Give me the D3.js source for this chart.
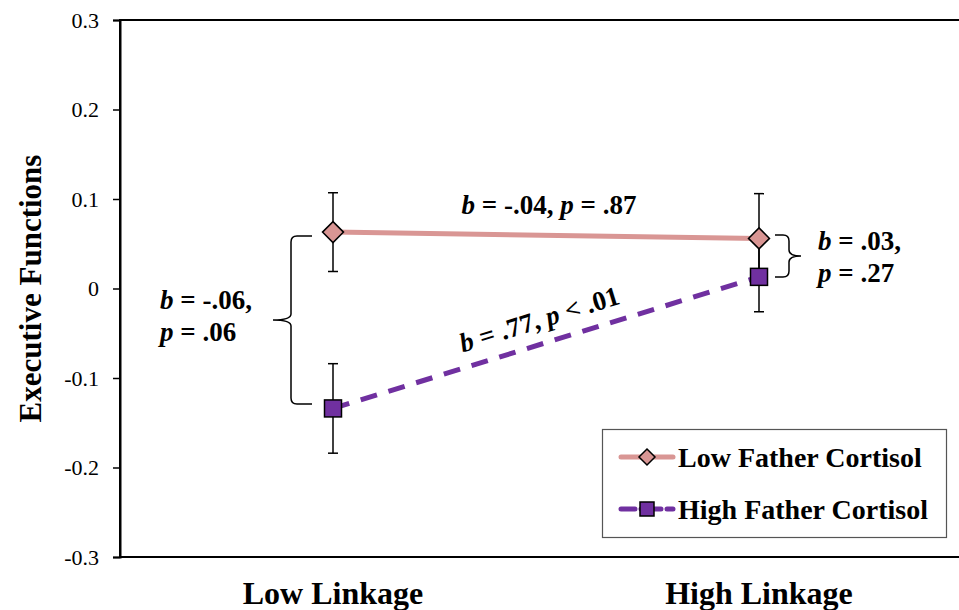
<!DOCTYPE html>
<html>
<head>
<meta charset="utf-8">
<script src="https://cdn.jsdelivr.net/npm/d3@7"></script>
<style>
    body { margin: 0; background: #fff; }
    svg { display: block; font-family: "Liberation Serif", "Times New Roman", serif; }
</style>
</head>
<body>
<script>
// chart data
var categories = ["Low Linkage", "High Linkage"];
var seriesNames = ["Low Father Cortisol", "High Father Cortisol"];
var lowCortisol = [0.063, 0.056];
var lowCortisolErr = [0.044, 0.050];
var highCortisol = [-0.134, 0.013];
var highCortisolErr = [0.050, 0.039];
var yTicks = [-0.3, -0.2, -0.1, 0, 0.1, 0.2, 0.3];

var pink = "#d99694";
var purple = "#7030a0";

var width = 959, height = 610;
var margin = { top: 20, left: 120 };
var plotRight = 972, plotBottom = 557;

var svg = d3.select("body")
    .append("svg")
    .attr("width", width)
    .attr("height", height);

// scales
var xScale = d3.scalePoint()
    .domain(categories)
    .range([margin.left, plotRight])
    .padding(0.5);

var yScale = d3.scaleLinear()
    .domain([-0.3, 0.3])
    .range([plotBottom, margin.top]);

// plot frame (right side runs off the picture)
svg.append("rect")
    .attr("x", margin.left)
    .attr("y", margin.top)
    .attr("width", plotRight - margin.left)
    .attr("height", plotBottom - margin.top)
    .attr("fill", "none")
    .attr("stroke", "#000")
    .attr("stroke-width", 2);

// y axis
var yAxis = d3.axisLeft(yScale)
    .tickValues(yTicks)
    .tickSize(7)
    .tickPadding(14)
    .tickFormat(function (d) {
        return d === 0 ? "0" : d.toFixed(1);
    });

var gy = svg.append("g")
    .attr("transform", "translate(" + margin.left + ",0)")
    .call(yAxis);
gy.attr("font-family", null).attr("font-size", null);
gy.select(".domain").attr("stroke-width", 2);
gy.selectAll(".tick line").attr("stroke-width", 1.5);
gy.selectAll(".tick text")
    .style("font-family", "'Liberation Serif', serif")
    .style("font-size", "22px")
    .attr("fill", "#000");

// y axis title
svg.append("text")
    .attr("transform", "translate(41," + yScale(0) + ") rotate(-90)")
    .attr("text-anchor", "middle")
    .attr("font-weight", "bold")
    .style("font-size", "31px")
    .text("Executive Functions");

// x labels
svg.selectAll(".xlabel")
    .data(categories)
    .enter().append("text")
    .attr("class", "xlabel")
    .attr("x", function (d) { return xScale(d); })
    .attr("y", 604)
    .attr("text-anchor", "middle")
    .attr("font-weight", "bold")
    .style("font-size", "32px")
    .text(function (d) { return d; });

// lines
var line = d3.line()
    .x(function (d, i) { return xScale(categories[i]); })
    .y(function (d) { return yScale(d); });

svg.append("path")
    .datum(lowCortisol)
    .attr("d", line)
    .attr("fill", "none")
    .attr("stroke", pink)
    .attr("stroke-width", 5);

svg.append("path")
    .datum(highCortisol)
    .attr("d", line)
    .attr("fill", "none")
    .attr("stroke", purple)
    .attr("stroke-width", 5)
    .attr("stroke-dasharray", "17,12");

// error bars
function drawErrors(values, errs) {
    var g = svg.append("g");
    values.forEach(function (v, i) {
        var x = xScale(categories[i]);
        var y1 = yScale(v + errs[i]), y2 = yScale(v - errs[i]);
        g.append("line").attr("x1", x).attr("x2", x).attr("y1", y1).attr("y2", y2)
            .attr("stroke", "#000").attr("stroke-width", 1.5);
        [y1, y2].forEach(function (yy) {
            g.append("line").attr("x1", x - 5).attr("x2", x + 5).attr("y1", yy).attr("y2", yy)
                .attr("stroke", "#000").attr("stroke-width", 1.5);
        });
    });
}
drawErrors(lowCortisol, lowCortisolErr);
drawErrors(highCortisol, highCortisolErr);

// markers
function diamondPath(cx, cy, r) {
    return "M" + cx + "," + (cy - r) + "L" + (cx + r) + "," + cy + "L" + cx + "," + (cy + r) + "L" + (cx - r) + "," + cy + "Z";
}

svg.selectAll(".lowMarker")
    .data(lowCortisol)
    .enter().append("path")
    .attr("class", "lowMarker")
    .attr("d", function (d, i) { return diamondPath(xScale(categories[i]), yScale(d), 10.5); })
    .attr("fill", pink)
    .attr("stroke", "#000")
    .attr("stroke-width", 1.5);

svg.selectAll(".highMarker")
    .data(highCortisol)
    .enter().append("rect")
    .attr("class", "highMarker")
    .attr("x", function (d, i) { return xScale(categories[i]) - 8.5; })
    .attr("y", function (d) { return yScale(d) - 8.5; })
    .attr("width", 17)
    .attr("height", 17)
    .attr("fill", purple)
    .attr("stroke", "#000")
    .attr("stroke-width", 1.5);

// annotation helper: bold, italic b and p
function statText(parent, x, y, parts, anchor) {
    var t = parent.append("text")
        .attr("x", x)
        .attr("y", y)
        .attr("font-weight", "bold")
        .style("font-size", "27px")
        .attr("text-anchor", anchor || "start");
    parts.forEach(function (p) {
        t.append("tspan")
            .attr("font-style", p[1] ? "italic" : "normal")
            .text(p[0]);
    });
    return t;
}

statText(svg, 549, 214, [["b", 1], [" = -.04, ", 0], ["p", 1], [" = .87", 0]], "middle");

var slopeX1 = xScale(categories[0]), slopeX2 = xScale(categories[1]);
var angle = Math.atan2(yScale(highCortisol[1]) - yScale(highCortisol[0]), slopeX2 - slopeX1) * 180 / Math.PI;
var g77 = svg.append("g")
    .attr("transform", "translate(542,328) rotate(" + angle + ")");
statText(g77, 0, 0, [["b", 1], [" = .77, ", 0], ["p", 1], [" < .01", 0]], "middle");

statText(svg, 160, 309, [["b", 1], [" = -.06,", 0]]);
statText(svg, 160, 341, [["p", 1], [" = .06", 0]]);
statText(svg, 818, 250, [["b", 1], [" = .03,", 0]]);
statText(svg, 818, 282, [["p", 1], [" = .27", 0]]);

// braces
function brace(xOuter, xInner, yTop, yBot, yTip, xTip) {
    var c = 6;
    var dir = xInner < xOuter ? -1 : 1;
    return "M" + xOuter + "," + yTop +
        "L" + (xInner - dir * c) + "," + yTop +
        "Q" + xInner + "," + yTop + " " + xInner + "," + (yTop + c) +
        "L" + xInner + "," + (yTip - c) +
        "Q" + xInner + "," + yTip + " " + xTip + "," + yTip +
        "Q" + xInner + "," + yTip + " " + xInner + "," + (yTip + c) +
        "L" + xInner + "," + (yBot - c) +
        "Q" + xInner + "," + yBot + " " + (xInner - dir * c) + "," + yBot +
        "L" + xOuter + "," + yBot;
}

svg.append("path")
    .attr("d", brace(312, 291, 236, 404, 320, 273))
    .attr("fill", "none")
    .attr("stroke", "#000")
    .attr("stroke-width", 1.5);

svg.append("path")
    .attr("d", brace(775, 789, 235, 277, 256, 801))
    .attr("fill", "none")
    .attr("stroke", "#000")
    .attr("stroke-width", 1.5);

// legend
var legend = svg.append("g");
legend.append("rect")
    .attr("x", 602.5)
    .attr("y", 429.5)
    .attr("width", 344)
    .attr("height", 108)
    .attr("fill", "#fff")
    .attr("stroke", "#555")
    .attr("stroke-width", 1.2);

var legendRows = legend.selectAll(".row")
    .data(seriesNames)
    .enter().append("g")
    .attr("class", "row")
    .attr("transform", function (d, i) { return "translate(0," + (457 + i * 52) + ")"; });

legendRows.append("line")
    .attr("x1", 621).attr("x2", 673)
    .attr("y1", 0).attr("y2", 0)
    .attr("stroke", function (d, i) { return i === 0 ? pink : purple; })
    .attr("stroke-width", 5)
    .attr("stroke-linecap", "round")
    .attr("stroke-dasharray", function (d, i) { return i === 0 ? null : "14,6,20,6,14"; });

legendRows.each(function (d, i) {
    var row = d3.select(this);
    if (i === 0) {
        row.append("path")
            .attr("d", diamondPath(647, 0, 8))
            .attr("fill", pink)
            .attr("stroke", "#000")
            .attr("stroke-width", 1.5);
    } else {
        row.append("rect")
            .attr("x", 640).attr("y", -7)
            .attr("width", 14).attr("height", 14)
            .attr("fill", purple)
            .attr("stroke", "#000")
            .attr("stroke-width", 1.5);
    }
});

legendRows.append("text")
    .attr("x", 678)
    .attr("y", 10)
    .attr("font-weight", "bold")
    .style("font-size", "28px")
    .text(function (d) { return d; });
</script>
</body>
</html>
